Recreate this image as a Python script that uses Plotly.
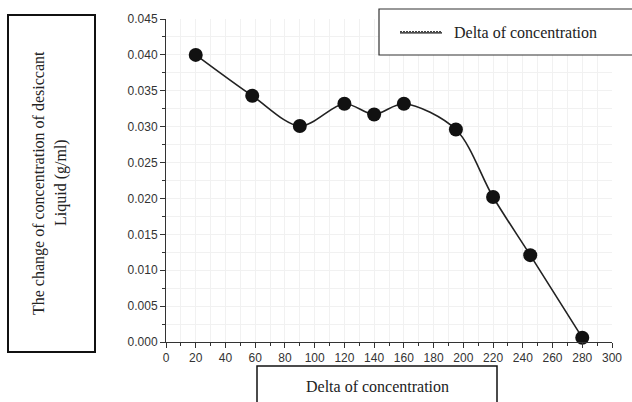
import plotly.graph_objects as go

# Data
x_vals = [20, 58, 90, 120, 140, 160, 195, 220, 245, 280]
y_vals = [0.0400, 0.0343, 0.0301, 0.0332, 0.0317, 0.0332, 0.0296, 0.0202, 0.0121, 0.0006]
series_name = "Delta of concentration"
x_title = "Delta of concentration"
y_title_lines = ["The change of concentration of desiccant", "Liquid (g/ml)"]
x_ticks = list(range(0, 301, 20))
y_ticks = [i * 0.005 for i in range(10)]
y_tick_labels = [f"{v:.3f}" for v in y_ticks]

W, H = 632, 402
L, R, T, B = 166, 20, 19, 60
PW, PH = W - L - R, H - T - B


def px(x):
    return (x - L) / PW


def py(y):
    return (H - B - y) / PH


fig = go.Figure()
fig.add_trace(go.Scatter(
    x=x_vals, y=y_vals, mode="lines+markers", name=series_name,
    line=dict(color="#222222", width=1.6, shape="spline", smoothing=0.9),
    marker=dict(color="#111111", size=14),
    showlegend=False, cliponaxis=False,
))

tickfont = dict(family="Liberation Sans, Arial", size=12, color="#333333")
serif = "Liberation Serif, Times New Roman"

fig.update_layout(
    width=W, height=H,
    margin=dict(l=L, r=R, t=T, b=B, autoexpand=False),
    paper_bgcolor="white", plot_bgcolor="white",
    xaxis=dict(
        range=[0, 300], tickvals=x_ticks, showgrid=False, zeroline=False,
        showline=True, linecolor="#333333", linewidth=1,
        ticks="outside", ticklen=5, tickcolor="#333333", tickfont=tickfont,
        minor=dict(dtick=10, tick0=0, ticks="outside", ticklen=3, tickcolor="#333333",
                   showgrid=True, gridcolor="#f1f1f1", gridwidth=1),
    ),
    yaxis=dict(
        range=[0, 0.045], tickvals=y_ticks, ticktext=y_tick_labels,
        showgrid=False, zeroline=False,
        showline=True, linecolor="#333333", linewidth=1,
        ticks="outside", ticklen=5, tickcolor="#333333", tickfont=tickfont,
        minor=dict(dtick=0.0025, tick0=0, ticks="outside", ticklen=3, tickcolor="#333333",
                   showgrid=True, gridcolor="#f1f1f1", gridwidth=1),
    ),
)

shapes = []
annotations = []

# Y-axis title box
shapes.append(dict(type="rect", xref="paper", yref="paper",
                   x0=px(8), x1=px(95), y0=py(352), y1=py(15),
                   line=dict(color="#111111", width=2), fillcolor="white"))
annotations.append(dict(xref="paper", yref="paper", x=px(39), y=py(183),
                        text=y_title_lines[0], textangle=-90, showarrow=False,
                        font=dict(family=serif, size=16, color="#222222"),
                        xanchor="center", yanchor="middle"))
annotations.append(dict(xref="paper", yref="paper", x=px(61), y=py(183),
                        text=y_title_lines[1], textangle=-90, showarrow=False,
                        font=dict(family=serif, size=16, color="#222222"),
                        xanchor="center", yanchor="middle"))

# X-axis title box
shapes.append(dict(type="rect", xref="paper", yref="paper",
                   x0=px(257), x1=px(497), y0=py(410), y1=py(366),
                   line=dict(color="#111111", width=1.5), fillcolor="white"))
annotations.append(dict(xref="paper", yref="paper", x=px(377), y=py(386),
                        text=x_title, showarrow=False,
                        font=dict(family=serif, size=16, color="#222222"),
                        xanchor="center", yanchor="middle"))

# Legend box
shapes.append(dict(type="rect", xref="paper", yref="paper",
                   x0=px(379), x1=px(640), y0=py(55), y1=py(9),
                   line=dict(color="#333333", width=1.2), fillcolor="white"))
shapes.append(dict(type="line", xref="paper", yref="paper",
                   x0=px(400), x1=px(442), y0=py(32.8), y1=py(32.8),
                   line=dict(color="#111111", width=1.2)))
shapes.append(dict(type="line", xref="paper", yref="paper",
                   x0=px(400), x1=px(442), y0=py(31.5), y1=py(31.5),
                   line=dict(color="#444444", width=1, dash="2px,1px")))
annotations.append(dict(xref="paper", yref="paper", x=px(452), y=py(32),
                        text=series_name, showarrow=False,
                        font=dict(family=serif, size=16, color="#222222"),
                        xanchor="left", yanchor="middle"))

fig.update_layout(shapes=shapes, annotations=annotations)

fig.write_html("out.html", config={"displayModeBar": False},
               post_script="document.body.style.margin='0';document.body.style.overflow='hidden';")
